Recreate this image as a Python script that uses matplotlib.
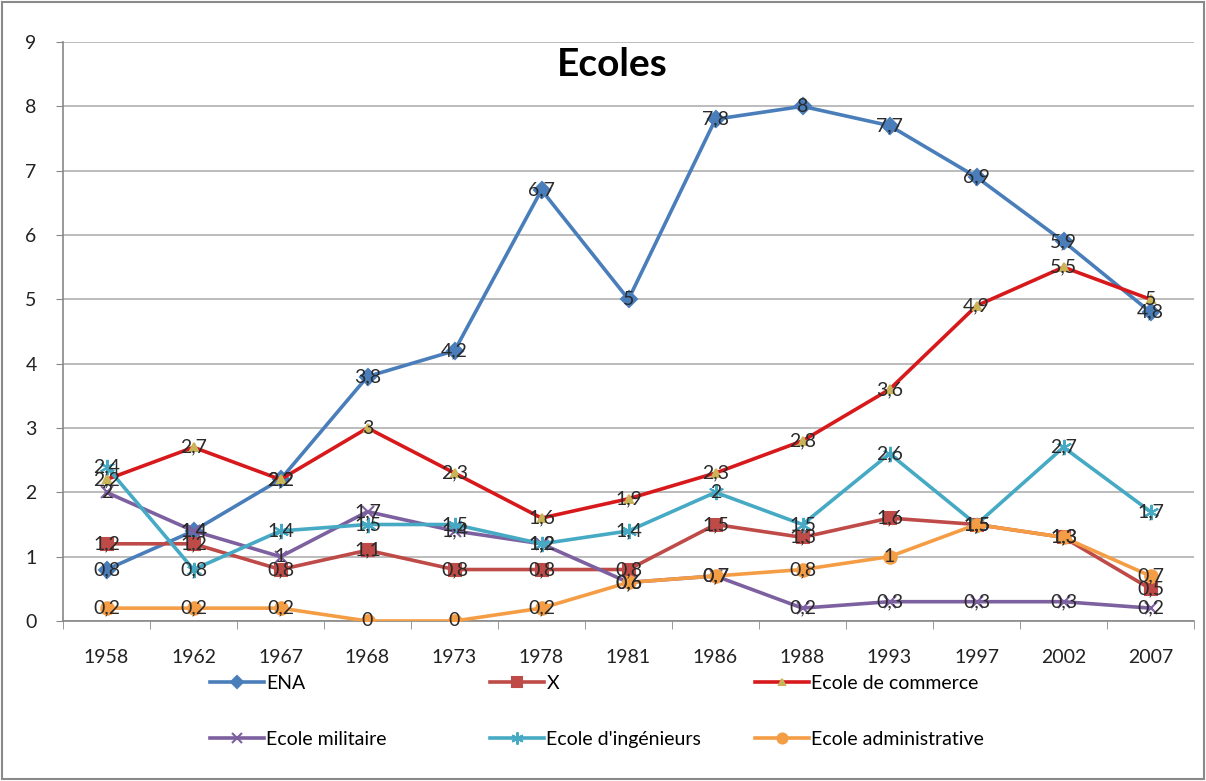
import matplotlib.pyplot as plt
from matplotlib.patches import Rectangle
import numpy as np

plt.rcParams['font.family'] = ['Lato', 'DejaVu Sans']

years = ['1958', '1962', '1967', '1968', '1973', '1978', '1981',
         '1986', '1988', '1993', '1997', '2002', '2007']

ena = [0.8, 1.4, 2.2, 3.8, 4.2, 6.7, 5, 7.8, 8, 7.7, 6.9, 5.9, 4.8]
x_poly = [1.2, 1.2, 0.8, 1.1, 0.8, 0.8, 0.8, 1.5, 1.3, 1.6, 1.5, 1.3, 0.5]
commerce = [2.2, 2.7, 2.2, 3, 2.3, 1.6, 1.9, 2.3, 2.8, 3.6, 4.9, 5.5, 5]
militaire = [2, 1.4, 1, 1.7, 1.4, 1.2, 0.6, 0.7, 0.2, 0.3, 0.3, 0.3, 0.2]
ingenieurs = [2.4, 0.8, 1.4, 1.5, 1.5, 1.2, 1.4, 2, 1.5, 2.6, 1.5, 2.7, 1.7]
admin = [0.2, 0.2, 0.2, 0, 0, 0.2, 0.6, 0.7, 0.8, 1, 1.5, 1.3, 0.7]

fig = plt.figure(figsize=(12.06, 7.81), dpi=100)
ax = fig.add_axes([63/1206, 1-621/781, (1194-63)/1206, (621-42)/781])

xs = np.arange(len(years))

# (label, data, color, marker, marker size, marker color)
series = [
    ('ENA', ena, '#4a7ebb', 'D', 8, '#4a7ebb'),
    ('X', x_poly, '#be4b48', 's', 9, '#be4b48'),
    ('Ecole de commerce', commerce, '#d7191c', '^', 6, '#c9b458'),
    ('Ecole militaire', militaire, '#7d60a0', 'x', 9, '#7d60a0'),
    ("Ecole d'ingénieurs", ingenieurs, '#46aac5', (6, 2, 0), 11, '#46aac5'),
    ('Ecole administrative', admin, '#f59d45', 'o', 9, '#f59d45'),
]

handles = {}
for name, vals, col, mk, ms, mc in series:
    h, = ax.plot(xs, vals, color=col, lw=2.6, marker=mk, ms=ms,
                 mfc=mc, mec=mc, mew=1.5, label=name, zorder=3)
    handles[name] = h
    for xi, v in zip(xs, vals):
        lab = ('%g' % v).replace('.', ',')
        ax.text(xi, v, lab, ha='center', va='center', fontsize=14,
                color='#2a2a2a', zorder=5)

ax.set_xlim(-0.5, len(years) - 0.5)
ax.set_ylim(0, 9)
ax.set_yticks(range(0, 10))
ax.set_xticks(xs)
ax.set_xticklabels(years, fontsize=14, color='#222')
ax.tick_params(axis='x', length=0, pad=20)
ax.tick_params(axis='y', labelsize=14, colors='#888', labelcolor='#222',
               length=5, pad=14)
ax.set_xticks(np.arange(-0.5, len(years)), minor=True)
ax.tick_params(axis='x', which='minor', length=6, color='#888')
ax.grid(axis='y', color='#b0b0b0', lw=1.2)
ax.set_axisbelow(True)
for s in ['top', 'right']:
    ax.spines[s].set_visible(False)
for s in ['left', 'bottom']:
    ax.spines[s].set_color('#888')
    ax.spines[s].set_linewidth(1.2)

fig.text(612/1206, 1-65/781, 'Ecoles', fontsize=28, fontweight='bold',
         ha='center', va='center')

cols = [(['ENA', 'Ecole militaire'], 210),
        (['X', "Ecole d'ingénieurs"], 490),
        (['Ecole de commerce', 'Ecole administrative'], 755)]
for names, xpos in cols:
    fig.legend([handles[n] for n in names], names, loc='upper left',
               bbox_to_anchor=(xpos/1206, 1-675/781), frameon=False,
               fontsize=14, handlelength=2.8, handletextpad=0.1,
               borderpad=0, borderaxespad=0, labelspacing=2.0,
               markerscale=0.8)

fig.patches.append(Rectangle((0.002, 0.003), 0.996, 0.994,
                             transform=fig.transFigure, fill=False,
                             edgecolor='#8a8a8a', lw=1.5))

fig.savefig('out.png', dpi=100)
